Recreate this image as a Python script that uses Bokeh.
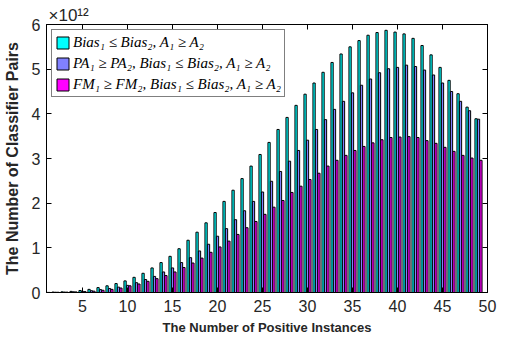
from bokeh.plotting import figure
from bokeh.models import Range1d, LinearAxis, FixedTicker, ColumnDataSource, Title
from bokeh.transform import dodge
from bokeh.embed import file_html
from bokeh.resources import INLINE

# Number of positive instances (x) and classifier-pair counts in units of 10^12
positives = list(range(1, 50))

bias_le = [0.005, 0.01, 0.015, 0.025, 0.045, 0.07, 0.11, 0.15, 0.20, 0.26,
           0.34, 0.43, 0.55, 0.67, 0.81, 0.98, 1.17, 1.35, 1.56, 1.79,
           2.04, 2.29, 2.55, 2.83, 3.09, 3.36, 3.65, 3.92, 4.19, 4.44,
           4.69, 4.93, 5.15, 5.34, 5.50, 5.64, 5.76, 5.82, 5.87, 5.83,
           5.79, 5.69, 5.53, 5.32, 5.04, 4.75, 4.45, 4.15, 3.89]

pa_bias = [0.003, 0.006, 0.01, 0.016, 0.025, 0.04, 0.065, 0.09, 0.12, 0.16,
           0.22, 0.29, 0.36, 0.46, 0.55, 0.67, 0.78, 0.93, 1.08, 1.26,
           1.43, 1.63, 1.83, 2.04, 2.25, 2.49, 2.71, 2.94, 3.18, 3.41,
           3.65, 3.87, 4.10, 4.28, 4.47, 4.64, 4.78, 4.92, 5.01, 5.04,
           5.09, 5.06, 4.98, 4.87, 4.69, 4.50, 4.28, 4.07, 3.88]

fm_bias = [0.002, 0.005, 0.008, 0.013, 0.02, 0.03, 0.05, 0.07, 0.10, 0.15,
           0.19, 0.25, 0.31, 0.38, 0.46, 0.56, 0.66, 0.77, 0.90, 1.02,
           1.15, 1.30, 1.45, 1.59, 1.75, 1.91, 2.06, 2.24, 2.38, 2.53,
           2.67, 2.83, 2.96, 3.07, 3.18, 3.27, 3.35, 3.42, 3.47, 3.48,
           3.49, 3.47, 3.40, 3.34, 3.25, 3.16, 3.07, 3.01, 2.96]

series_labels = [
    "Bias\u2081 \u2264 Bias\u2082, A\u2081 \u2265 A\u2082",
    "PA\u2081 \u2265 PA\u2082, Bias\u2081 \u2264 Bias\u2082, A\u2081 \u2265 A\u2082",
    "FM\u2081 \u2265 FM\u2082, Bias\u2081 \u2264 Bias\u2082, A\u2081 \u2265 A\u2082",
]
series_colors = ["#00FFFF", "#8080FF", "#FF00FF"]

x_ticks = [5, 10, 15, 20, 25, 30, 35, 40, 45, 50]
y_ticks = [0, 1, 2, 3, 4, 5, 6]

src = ColumnDataSource(dict(k=positives, s1=bias_le, s2=pa_bias, s3=fm_bias))

p = figure(width=505, height=348, output_backend="svg", toolbar_location=None,
           x_range=Range1d(1, 50), y_range=Range1d(0, 6),
           min_border_left=41, min_border_right=18,
           min_border_top=24, min_border_bottom=56)

p.xgrid.visible = False
p.ygrid.visible = False
p.outline_line_color = "black"
p.outline_line_width = 1
p.background_fill_color = "white"

offsets = [-0.27, 0.0, 0.27]
for col, off, color, lab in zip(["s1", "s2", "s3"], offsets, series_colors, series_labels):
    p.vbar(x=dodge("k", off, range=p.x_range), top=col, width=0.25, bottom=0,
           source=src, fill_color=color, line_color="black", line_width=1,
           legend_label=lab)

tick_font = "Liberation Sans"

def style_axis(ax, ticks, show_labels):
    ax.ticker = FixedTicker(ticks=ticks)
    ax.major_tick_in = 5
    ax.major_tick_out = 0
    ax.minor_tick_line_color = None
    ax.axis_line_color = "black"
    ax.major_tick_line_color = "black"
    if show_labels:
        ax.major_label_text_font = tick_font
        ax.major_label_text_font_size = "16px"
        ax.major_label_text_color = "#262626"
    else:
        ax.major_label_text_color = None
        ax.major_label_text_font_size = "1px"
        ax.major_label_standoff = 0

xa = p.xaxis[0]
ya = p.yaxis[0]
style_axis(xa, x_ticks, True)
style_axis(ya, y_ticks, True)
xa.major_label_standoff = 7
ya.major_label_standoff = 6

xa.axis_label = "The Number of Positive Instances"
ya.axis_label = "The Number of Classifier Pairs"
for ax, size, stand in ((xa, "13px", 5), (ya, "16px", 8)):
    ax.axis_label_text_font = tick_font
    ax.axis_label_text_font_style = "bold"
    ax.axis_label_text_font_size = size
    ax.axis_label_text_color = "#262626"
    ax.axis_label_standoff = stand

top_ax = LinearAxis()
right_ax = LinearAxis()
style_axis(top_ax, x_ticks, False)
style_axis(right_ax, y_ticks, False)
p.add_layout(top_ax, "above")
p.add_layout(right_ax, "right")

# exponent marker of the y axis, set above the frame's left edge
p.add_layout(Title(text="\u00d710\u00b9\u00b2", align="left", offset=2, standoff=0,
                   text_font=tick_font, text_font_size="17px",
                   text_font_style="normal", text_color="#262626"), "above")

lg = p.legend[0]
lg.location = "top_left"
lg.margin = 5
lg.padding = 3
lg.spacing = 3
lg.label_height = 18
lg.glyph_height = 15
lg.glyph_width = 15
lg.label_standoff = 3
lg.border_line_color = "black"
lg.border_line_width = 1
lg.background_fill_alpha = 1
lg.label_text_font = "Liberation Serif"
lg.label_text_font_style = "italic"
lg.label_text_font_size = "15px"
lg.label_text_color = "black"

open("out.html", "w").write(file_html(p, INLINE))
